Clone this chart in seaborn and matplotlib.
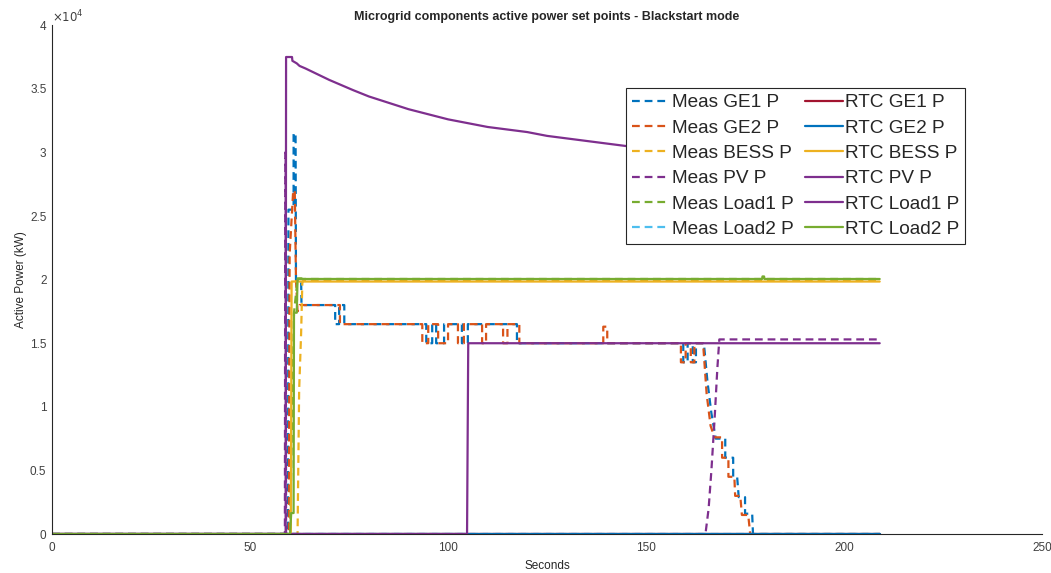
import pandas as pd
import matplotlib.pyplot as plt
import seaborn as sns

# -----------------------------
# Data (seconds, W)
# -----------------------------

meas_ge1_t = [0, 59.6, 59.7, 61.0, 61.0, 61.5, 61.6, 62.9, 63.0, 71.5, 71.5, 72.5, 72.5, 73.8, 73.8,
              94.5, 94.5, 96.0, 96.0, 97.0, 97.0, 99.0, 99.0, 103.5, 103.5, 105.0, 105.0, 117.4, 117.4,
              159.4, 159.4, 160.5, 160.5, 161.8, 161.8, 162.6, 162.6, 164.6, 165.5, 166.5, 167.6,
              170.0, 170.0, 172.0, 172.0, 173.0, 173.4, 175.0, 175.0, 176.8, 177.0, 209]
meas_ge1_p = [0, 0, 25500, 25500, 31500, 31500, 20000, 20000, 18000, 18000, 16500, 16500, 18000, 18000, 16500,
              16500, 15000, 15000, 16500, 16500, 15000, 15000, 16500, 16500, 15000, 15000, 16500, 16500, 15000,
              15000, 13500, 13500, 15000, 15000, 13500, 13500, 15000, 15000, 12000, 9500, 7500,
              7500, 6000, 6000, 4500, 4500, 2900, 2900, 1600, 1600, 0, 0]

meas_ge2_t = [0, 59.8, 60.0, 60.9, 61.3, 61.6, 62.0, 62.5, 72.7, 72.7,
              93.5, 93.5, 95.0, 95.0, 97.5, 97.5, 100.0, 100.0, 102.5, 102.5, 104.0, 104.0,
              108.6, 108.6, 109.6, 109.6, 113.9, 113.9, 115.0, 115.0, 118.0, 118.0,
              139.2, 139.2, 140.2, 140.2, 158.8, 158.8, 160.0, 160.0, 161.3, 161.3, 162.2, 162.2,
              164.4, 165.3, 166.3, 167.3, 169.2, 169.2, 170.8, 170.8, 172.3, 172.5, 173.8, 174.2,
              175.8, 176.3, 209]
meas_ge2_p = [0, 0, 22000, 27000, 27000, 20000, 17500, 18000, 18000, 16500,
              16500, 15000, 15000, 16500, 16500, 15000, 15000, 16500, 16500, 15000, 15000, 16500,
              16500, 15000, 15000, 16500, 16500, 15000, 15000, 16500, 16500, 15000,
              15000, 16300, 16300, 15000, 15000, 13500, 13500, 15000, 15000, 13500, 13500, 15000,
              15000, 11000, 8500, 7600, 7600, 6000, 6000, 4500, 4500, 3000, 3000, 1500,
              1500, 0, 0]

meas_bess_t = [0, 62.0, 62.4, 62.9, 63.2, 63.4, 209]
meas_bess_p = [0, 0, 11300, 15800, 19700, 19900, 19900]

meas_pv_t = [0, 58.8, 58.9, 59.0, 59.1, 165.0, 165.8, 166.5, 167.3, 168.0, 168.5, 209]
meas_pv_p = [0, 0, 30000, 30000, 0, 0, 2000, 5000, 9000, 13000, 15300, 15300]

meas_load1_t = [0, 60.1, 61.1, 62.0, 209]
meas_load1_p = [0, 0, 17400, 20050, 20050]

meas_load2_t = [0, 209]
meas_load2_p = [0, 0]

rtc_ge1_t = [0, 209]
rtc_ge1_p = [0, 0]

rtc_ge2_t = [0, 209]
rtc_ge2_p = [0, 0]

rtc_bess_t = [0, 60.3, 60.5, 209]
rtc_bess_p = [0, 0, 19850, 19850]

rtc_pv_t = [0, 104.8, 105.1, 209]
rtc_pv_p = [0, 0, 15000, 15000]

rtc_load1_t = [0, 59.0, 59.1, 60.6, 60.7, 61.8, 62.5, 64, 66, 68, 70, 73, 76, 80, 85, 90, 95, 100,
               105, 110, 115, 120, 125, 130, 135, 140, 145, 150, 160, 170, 180, 190, 200, 209]
rtc_load1_p = [0, 0, 37500, 37500, 37200, 37000, 36800, 36600, 36300, 36000, 35700, 35300, 34900, 34400,
               33900, 33400, 33000, 32600, 32300, 32000, 31800, 31600, 31300, 31100, 30900, 30700, 30500,
               30400, 30200, 30000, 29900, 29800, 29700, 29600]

rtc_load2_t = [0, 60.1, 60.4, 61.0, 61.1, 61.8, 62.0, 63.0, 63.1, 179.3, 179.4, 179.8, 179.9, 209]
rtc_load2_p = [0, 0, 1650, 1650, 17400, 17400, 20100, 20100, 20050, 20050, 20250, 20250, 20050, 20050]

series_names = ['Meas GE1 P', 'Meas GE2 P', 'Meas BESS P', 'Meas PV P', 'Meas Load1 P', 'Meas Load2 P',
                'RTC GE1 P', 'RTC GE2 P', 'RTC BESS P', 'RTC PV P', 'RTC Load1 P', 'RTC Load2 P']
series_t = [meas_ge1_t, meas_ge2_t, meas_bess_t, meas_pv_t, meas_load1_t, meas_load2_t,
            rtc_ge1_t, rtc_ge2_t, rtc_bess_t, rtc_pv_t, rtc_load1_t, rtc_load2_t]
series_p = [meas_ge1_p, meas_ge2_p, meas_bess_p, meas_pv_p, meas_load1_p, meas_load2_p,
            rtc_ge1_p, rtc_ge2_p, rtc_bess_p, rtc_pv_p, rtc_load1_p, rtc_load2_p]

colors = ['#0072BD', '#D95319', '#EDB120', '#7E2F8E', '#77AC30', '#4DBEEE',
          '#A2142F', '#0072BD', '#EDB120', '#7E2F8E', '#7E2F8E', '#77AC30']

y_ticks = [0, 5000, 10000, 15000, 20000, 25000, 30000, 35000, 40000]
y_tick_labels = ['0', '0.5', '1', '1.5', '2', '2.5', '3', '3.5', '4']
x_ticks = [0, 50, 100, 150, 200, 250]

# -----------------------------
# Plot
# -----------------------------

sns.set_theme(style='white')
plt.rcParams['font.family'] = ['Liberation Sans', 'DejaVu Sans']

fig = plt.figure(figsize=(10.51, 5.73), dpi=100)
ax = fig.add_axes([0.0495, 0.068, 0.942, 0.888])

for name, t, p, c in zip(series_names, series_t, series_p, colors):
    df = pd.DataFrame({'t': t, 'p': p})
    ls = (0, (3.5, 2.2)) if name.startswith('Meas') else '-'
    sns.lineplot(data=df, x='t', y='p', ax=ax, color=c, linestyle=ls,
                 linewidth=1.6, label=name, sort=False, estimator=None)

ax.set_xlim(0, 250)
ax.set_ylim(0, 40000)
ax.set_xticks(x_ticks)
ax.set_yticks(y_ticks, labels=y_tick_labels)
ax.tick_params(direction='in', length=4, width=0.8, color='#7f7f7f',
               labelsize=8.5, labelcolor='#404040')
ax.tick_params(axis='x', pad=6)
ax.tick_params(axis='y', pad=4)
for s in ['top', 'right']:
    ax.spines[s].set_visible(False)
for s in ['left', 'bottom']:
    ax.spines[s].set_color('#262626')
    ax.spines[s].set_linewidth(0.8)

ax.text(0.0, 1.0, r'$\times10^{4}$', transform=ax.transAxes, ha='left', va='bottom',
        fontsize=8.5, color='#404040')

ax.set_xlabel('Seconds', fontsize=8.5, color='#262626', labelpad=4)
ax.set_ylabel('Active Power (kW)', fontsize=8.5, color='#262626', labelpad=2)
ax.set_title('Microgrid components active power set points - Blackstart mode',
             fontsize=9, fontweight='bold', color='#262626', pad=4)

leg = ax.legend(ncol=2, loc='upper left', bbox_to_anchor=(0.58, 0.876),
                fontsize=13.7, frameon=True, fancybox=False, framealpha=1,
                edgecolor='#262626', handlelength=2.0, handletextpad=0.1,
                columnspacing=0.6, labelspacing=0.42, borderpad=0.3,
                borderaxespad=0)
leg.get_frame().set_linewidth(0.8)

plt.savefig('out.png', dpi=100)
